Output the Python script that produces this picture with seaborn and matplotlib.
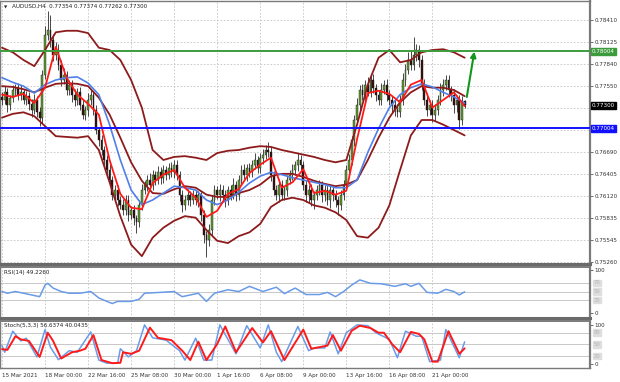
import numpy as np
import pandas as pd
import matplotlib
matplotlib.use("Agg")
import matplotlib.pyplot as plt
import seaborn as sns

# ---------------- data ----------------
title_text = "AUDUSD,H4  0.77354 0.77374 0.77262 0.77300"
rsi_title = "RSI(14) 49.2260"
stoch_title = "Stoch(5,3,3) 56.6374 40.0435"

first_open = 0.77410
closes = [
    0.77370, 0.77474, 0.77305, 0.77396, 0.77500, 0.77526, 0.77435, 0.77474, 0.77370, 0.77422,
    0.77318, 0.77240, 0.77370, 0.77214, 0.77136, 0.77695, 0.78215, 0.78280, 0.78150, 0.77955,
    0.78020, 0.77825, 0.77630, 0.77695, 0.77500, 0.77565, 0.77435, 0.77370, 0.77474, 0.77305,
    0.77175, 0.77240, 0.77370, 0.77435, 0.77240, 0.76980, 0.76850, 0.76720, 0.76590, 0.76460,
    0.76330, 0.76135, 0.76200, 0.76070, 0.76005, 0.75940, 0.76070, 0.75875, 0.75940, 0.75836,
    0.75784, 0.76005, 0.76200, 0.76265, 0.76330, 0.76265, 0.76395, 0.76330, 0.76434, 0.76356,
    0.76460, 0.76395, 0.76486, 0.76434, 0.76525, 0.76395, 0.76135, 0.76005, 0.76070, 0.76135,
    0.76070, 0.76135, 0.76070, 0.76135, 0.75875, 0.75615, 0.75550, 0.75680, 0.76070, 0.76200,
    0.76135, 0.76200, 0.76135, 0.76070, 0.76200, 0.76135, 0.76265, 0.76135, 0.76330, 0.76460,
    0.76395, 0.76486, 0.76434, 0.76525, 0.76590, 0.76486, 0.76616, 0.76655, 0.76720, 0.76694,
    0.76395, 0.76200, 0.76135, 0.76265, 0.76135, 0.76200, 0.76330, 0.76395, 0.76460, 0.76525,
    0.76590, 0.76525, 0.76265, 0.76135, 0.76200, 0.76070, 0.76135, 0.76200, 0.76265, 0.76135,
    0.76200, 0.76070, 0.76200, 0.76135, 0.76070, 0.76005, 0.76135, 0.76265, 0.76460, 0.76590,
    0.76850, 0.77110, 0.77305, 0.77500, 0.77435, 0.77565, 0.77474, 0.77630, 0.77526, 0.77435,
    0.77370, 0.77500, 0.77565, 0.77435, 0.77370, 0.77305, 0.77240, 0.77214, 0.77370, 0.77630,
    0.77760, 0.77890, 0.77825, 0.77955, 0.78020, 0.77890, 0.77565, 0.77370, 0.77240, 0.77305,
    0.77175, 0.77240, 0.77370, 0.77500, 0.77565, 0.77630, 0.77500, 0.77435, 0.77305, 0.77370,
    0.77110, 0.77354, 0.77300]

# upper / lower shadows in pips
wick_up_pips = [
    6, 8, 5, 4, 7, 5, 6, 9, 4, 6, 5, 7, 8, 5, 6,
    6, 12, 25, 20, 8,
    10, 8, 6, 9, 5, 7, 6, 8, 5, 6, 7, 5, 9, 6,
    5, 6, 4, 7, 5, 6, 8, 5, 7, 6, 5, 8, 6, 7, 5, 6, 4,
    6, 8, 5, 7, 9, 6, 5, 8, 6, 7, 5, 6, 8, 7, 6,
    5, 7, 6, 8, 5, 6, 7, 5, 4, 6, 5, 8,
    7, 6, 5, 8, 6, 7, 5, 6, 9, 5, 7, 6, 8, 5, 7, 6, 9, 5, 6, 8, 7, 10,
    6, 5, 7, 8, 6, 5, 7, 6, 8, 5, 9, 6, 5, 7, 6, 8, 5, 6, 7, 5, 6, 8, 7, 5, 6, 5, 7, 6,
    6, 8, 5, 7, 9, 6, 8, 7, 10, 6, 8, 5, 7, 9, 6, 8, 7, 5, 6, 8,
    7, 9, 8, 10, 12, 23, 8, 7, 6, 8, 9, 7, 6, 8, 7, 9, 8, 6, 7, 5, 8, 7, 6, 7, 2]
wick_dn_pips = [
    7, 5, 9, 6, 5, 8, 6, 7, 5, 6, 8, 9, 5, 7, 10,
    6, 5, 7, 9, 8,
    7, 6, 8, 5, 7, 6, 9, 8, 6, 7, 5, 6, 8, 7,
    6, 5, 8, 7, 6, 9, 5, 7, 6, 8, 5, 7, 6, 8, 5, 9, 14,
    6, 7, 5, 8, 6, 7, 6, 5, 8, 6, 7, 5, 6, 8, 7,
    8, 9, 7, 6, 8, 5, 7, 9, 8, 10, 22, 8,
    6, 7, 5, 8, 6, 9, 7, 6, 5, 8, 7, 6, 5, 8, 7, 6, 5, 7, 6, 8, 5, 6,
    8, 7, 6, 9, 7, 6, 8, 5, 7, 6, 8, 7, 6, 9, 10, 8, 12, 7, 6, 9, 8, 7, 10, 8, 9, 13, 7, 6,
    5, 7, 6, 8, 5, 7, 6, 8, 5, 7, 6, 8, 7, 6, 5, 8, 7, 9, 8, 6,
    7, 6, 8, 5, 7, 6, 8, 9, 7, 6, 8, 7, 9, 8, 7, 6, 8, 7, 9, 8, 10, 9, 12, 6, 4]

# indicator lines, sampled every 4 bars
line_bars = list(range(0, 173, 4))
bb_upper = [0.7805, 0.7799, 0.7789, 0.7781, 0.7802, 0.7825, 0.7827, 0.7827, 0.7824, 0.7805,
            0.7802, 0.7789, 0.7763, 0.7727, 0.7672, 0.7659, 0.7663, 0.7664, 0.7662, 0.7659,
            0.7668, 0.7671, 0.7672, 0.7675, 0.7677, 0.7676, 0.7672, 0.7669, 0.7666, 0.7663,
            0.7659, 0.7656, 0.7659, 0.7705, 0.7757, 0.7792, 0.7802, 0.7786, 0.7789, 0.7799,
            0.7802, 0.7803, 0.7799, 0.7792]
bb_mid = [0.7755, 0.7754, 0.7751, 0.7747, 0.7753, 0.7758, 0.7759, 0.7758, 0.7755, 0.7740,
          0.7718, 0.7688, 0.7656, 0.7632, 0.7616, 0.7615, 0.7621, 0.7625, 0.7623, 0.7614,
          0.7611, 0.7611, 0.7616, 0.7620, 0.7627, 0.7638, 0.7641, 0.7641, 0.7637, 0.7632,
          0.7628, 0.7625, 0.7627, 0.7633, 0.7659, 0.7688, 0.7714, 0.7734, 0.7747, 0.7755,
          0.7753, 0.7753, 0.7750, 0.7742]
bb_lower = [0.7714, 0.7719, 0.7721, 0.7716, 0.7703, 0.7690, 0.7689, 0.7688, 0.7690, 0.7672,
            0.7630, 0.7586, 0.7549, 0.7534, 0.7558, 0.7571, 0.7580, 0.7586, 0.7584, 0.7568,
            0.7554, 0.7551, 0.7560, 0.7565, 0.7576, 0.7598, 0.7607, 0.7610, 0.7607, 0.7600,
            0.7597, 0.7591, 0.7581, 0.7560, 0.7558, 0.7571, 0.7600, 0.7646, 0.7691, 0.7711,
            0.7711, 0.7705, 0.7698, 0.7691]
ma_fast = [0.7744, 0.7741, 0.7745, 0.7733, 0.7753, 0.7806, 0.7766, 0.7744, 0.7732, 0.7718,
           0.7659, 0.7615, 0.7597, 0.7595, 0.7629, 0.7640, 0.7646, 0.7623, 0.7610, 0.7585,
           0.7593, 0.7615, 0.7621, 0.7642, 0.7653, 0.7662, 0.7623, 0.7630, 0.7647, 0.7616,
           0.7619, 0.7614, 0.7619, 0.7686, 0.7746, 0.7749, 0.7745, 0.7734, 0.7757, 0.7763,
           0.7727, 0.7737, 0.7747, 0.7729]
ma_slow = [0.7766, 0.7760, 0.7755, 0.7746, 0.7757, 0.7763, 0.7766, 0.7767, 0.7759, 0.7744,
           0.7705, 0.7659, 0.7620, 0.7601, 0.7607, 0.7616, 0.7625, 0.7623, 0.7620, 0.7607,
           0.7601, 0.7607, 0.7617, 0.7629, 0.7638, 0.7643, 0.7640, 0.7636, 0.7633, 0.7630,
           0.7627, 0.7623, 0.7623, 0.7633, 0.7669, 0.7700, 0.7727, 0.7744, 0.7753, 0.7758,
           0.7754, 0.7747, 0.7741, 0.7733]

rsi_bars = [0, 2, 5, 8, 14, 16, 17, 19, 22, 25, 29, 33, 36, 39, 41, 43, 48, 51, 53, 59,
            64, 67, 73, 76, 79, 84, 88, 92, 97, 102, 105, 109, 113, 118, 121, 124, 127, 130,
            133, 137, 141, 146, 150, 152, 155, 158, 162, 165, 168, 170, 172]
rsi_vals = [50, 46, 50, 46, 38, 65, 69, 58, 50, 46, 46, 50, 35, 27, 22, 27, 27, 32, 46, 48,
            50, 38, 46, 27, 46, 54, 50, 62, 50, 60, 45, 58, 43, 43, 48, 38, 50, 65,
            77, 69, 68, 62, 68, 62, 69, 48, 46, 55, 50, 42, 49.2]

stoch_k_bars = [0, 1, 4, 7, 9, 13, 16, 18, 21, 25, 28, 33, 36, 39, 43, 44, 47, 50, 53, 56,
                61, 66, 68, 72, 75, 78, 81, 87, 91, 96, 99, 102, 104, 110, 114, 116, 120,
                122, 125, 128, 132, 136, 139, 144, 147, 150, 154, 156, 159, 163, 165, 170, 172]
stoch_k_vals = [47, 30, 84, 59, 66, 18, 88, 43, 11, 34, 30, 82, 10, 2, 2, 39, 18, 34, 100, 67,
                61, 34, 10, 66, 10, 10, 100, 26, 98, 41, 100, 30, 6, 96, 34, 41, 41,
                82, 26, 80, 100, 98, 80, 63, 16, 84, 71, 71, 6, 10, 88, 16, 56.6]
stoch_d_bars = [0, 2, 5, 7, 10, 14, 17, 19, 22, 26, 29, 31, 34, 37, 41, 44, 45, 48, 51, 55,
                58, 63, 67, 70, 73, 76, 80, 83, 87, 93, 97, 100, 103, 105, 112, 115, 118,
                121, 123, 126, 130, 133, 137, 140, 142, 145, 148, 152, 155, 157, 160, 162,
                166, 170, 172]
stoch_d_vals = [38, 36, 71, 63, 59, 18, 80, 59, 14, 30, 34, 39, 74, 10, 2, 3, 30, 26, 34, 93,
                67, 61, 34, 10, 57, 10, 51, 96, 30, 92, 55, 84, 39, 10, 88, 39, 43,
                47, 74, 34, 85, 98, 92, 80, 80, 51, 30, 82, 77, 63, 6, 6,
                84, 26, 40.0]

resistance = 0.78004
support = 0.77004
last_price = 0.77300
arrow_from = (172.8, 0.7741)
arrow_to = (175.6, 0.7800)

price_ticks = [0.78410, 0.78125, 0.77840, 0.77550, 0.77265, 0.76975, 0.76690,
               0.76405, 0.76120, 0.75835, 0.75545, 0.75260]
hidden_ticks = [0.77265, 0.76975]
time_tick_bars = [0, 16, 32, 48, 64, 80, 96, 112, 128, 144, 160]
time_labels = ["15 Mar 2021", "18 Mar 00:00", "22 Mar 16:00", "25 Mar 08:00",
               "30 Mar 00:00", "1 Apr 16:00", "6 Apr 08:00", "9 Apr 00:00",
               "13 Apr 16:00", "16 Apr 08:00", "21 Apr 00:00"]
rsi_levels = [70, 50, 30]
stoch_levels = [80, 50, 20]

# ---------------- style ----------------
sns.set_style("white")
plt.rcParams["font.family"] = ["DejaVu Sans"]
FS = 4.1
GRID = dict(color="#c4c4c4", lw=0.6, linestyle=(0, (2, 2)))
FRAME = "#7a7a7a"

W, H = 620, 382
fig = plt.figure(figsize=(W / 100, H / 100), dpi=100)
fig.patch.set_facecolor("white")

def rect(top, bottom, left=0, right=590):
    return [left / W, 1 - bottom / H, (right - left) / W, (bottom - top) / H]

ax = fig.add_axes(rect(1, 264))
ax_rsi = fig.add_axes(rect(267, 318), sharex=ax)
ax_st = fig.add_axes(rect(321, 368), sharex=ax)

xmin, xmax = -0.74, 218.6
ax.set_xlim(xmin, xmax)
ax.set_ylim(0.75238, 0.78657)
ax_rsi.set_ylim(-11.6, 107)
ax_st.set_ylim(-10.3, 110)

for a in (ax, ax_rsi, ax_st):
    a.set_facecolor("white")
    for s in a.spines.values():
        s.set_color(FRAME)
        s.set_linewidth(1.0)
    a.spines["right"].set_linewidth(1.6)
    a.yaxis.tick_right()
    a.tick_params(axis="y", which="both", length=2, width=0.5, pad=1.2,
                  labelsize=FS, colors="#333333", direction="out")
    a.tick_params(axis="x", length=0, labelbottom=False)
    for b in time_tick_bars:
        a.axvline(b, zorder=0, **GRID)
ax.spines["bottom"].set_linewidth(2.2)
ax.spines["bottom"].set_color("#6a6a6a")
ax_rsi.spines["top"].set_linewidth(1.4)
ax_rsi.spines["bottom"].set_linewidth(2.2)
ax_rsi.spines["bottom"].set_color("#6a6a6a")
ax_st.spines["top"].set_linewidth(1.4)

# ---------------- main price panel ----------------
ax.set_yticks(price_ticks)
ax.set_yticklabels(["" if t in hidden_ticks else f"{t:.5f}" for t in price_ticks])
for t in price_ticks:
    ax.axhline(t, zorder=0, **GRID)

n = len(closes)
bars = np.arange(n)
c = np.array(closes)
o = np.array([first_open] + closes[:-1])
hi = np.maximum(o, c) + np.array(wick_up_pips) * 0.0001
lo = np.minimum(o, c) - np.array(wick_dn_pips) * 0.0001
up = c >= o
ax.vlines(bars, lo, hi, color="#2a2a2a", lw=0.6, zorder=2)
ax.bar(bars[up], np.maximum((c - o)[up], 0.00004), bottom=o[up], width=0.66,
       color="#5f9e2f", edgecolor="#1c1c1c", lw=0.3, zorder=3)
ax.bar(bars[~up], np.maximum((o - c)[~up], 0.00004), bottom=c[~up], width=0.66,
       color="#3a0e0e", edgecolor="#1c1c1c", lw=0.3, zorder=3)

lines = pd.DataFrame({"bar": line_bars, "upper": bb_upper, "mid": bb_mid,
                      "lower": bb_lower, "fast": ma_fast, "slow": ma_slow})
for col in ("upper", "mid", "lower"):
    sns.lineplot(data=lines, x="bar", y=col, ax=ax, color="#8e1b1b", lw=1.3, zorder=4)
sns.lineplot(data=lines, x="bar", y="slow", ax=ax, color="#4f80ea", lw=1.2, zorder=5)
sns.lineplot(data=lines, x="bar", y="fast", ax=ax, color="#ff1a1a", lw=1.3, zorder=6)

ax.axhline(resistance, color="#3c9c3c", lw=1.4, zorder=7)
ax.axhline(support, color="#1010ff", lw=1.4, zorder=7)
ax.annotate("", xy=arrow_to, xytext=arrow_from,
            arrowprops=dict(arrowstyle="-|>", color="#14961e", lw=1.5,
                            mutation_scale=8, shrinkA=0, shrinkB=0), zorder=8)

def price_box(a, y, text, fc):
    a.text(1.003, y, text, transform=a.get_yaxis_transform(), ha="left", va="center",
           fontsize=FS, color="white", clip_on=False, zorder=10,
           bbox=dict(boxstyle="square,pad=0.2", fc=fc, ec=fc))

price_box(ax, resistance, f"{resistance:.5f}", "#3c9c3c")
price_box(ax, last_price, f"{last_price:.5f}", "#000000")
price_box(ax, support, f"{support:.5f}", "#1010ff")

ax.text(0.007, 0.984, "\u25BC", transform=ax.transAxes, ha="left", va="top",
        fontsize=3.0, color="#222222")
ax.text(0.021, 0.988, title_text, transform=ax.transAxes, ha="left", va="top",
        fontsize=FS, color="#222222")

# ---------------- RSI panel ----------------
ax_rsi.set_yticks([100, 0])
ax_rsi.set_yticklabels(["100", "0"])
for lv in rsi_levels:
    ax_rsi.axhline(lv, color="#c8c8c8", lw=0.7, zorder=0)
    ax_rsi.text(1.006, lv, str(lv), transform=ax_rsi.get_yaxis_transform(), ha="left",
                va="center", fontsize=FS - 0.3, color="#b5b5b5", clip_on=False,
                bbox=dict(boxstyle="square,pad=0.15", fc="#dedede", ec="#dedede"))
rsi_df = pd.DataFrame({"bar": rsi_bars, "rsi": rsi_vals})
sns.lineplot(data=rsi_df, x="bar", y="rsi", ax=ax_rsi, color="#6a9be8", lw=1.1, zorder=3)
ax_rsi.text(0.006, 0.95, rsi_title, transform=ax_rsi.transAxes, ha="left", va="top",
            fontsize=FS, color="#222222")

# ---------------- Stochastic panel ----------------
ax_st.set_yticks([100, 0])
ax_st.set_yticklabels(["100", "0"])
for lv in stoch_levels:
    ax_st.axhline(lv, color="#c8c8c8", lw=0.7, zorder=0)
    ax_st.text(1.006, lv, str(lv), transform=ax_st.get_yaxis_transform(), ha="left",
               va="center", fontsize=FS - 0.3, color="#b5b5b5", clip_on=False,
               bbox=dict(boxstyle="square,pad=0.15", fc="#dedede", ec="#dedede"))
k_df = pd.DataFrame({"bar": stoch_k_bars, "k": stoch_k_vals})
d_df = pd.DataFrame({"bar": stoch_d_bars, "d": stoch_d_vals})
sns.lineplot(data=k_df, x="bar", y="k", ax=ax_st, color="#6a9be8", lw=1.1, zorder=3)
sns.lineplot(data=d_df, x="bar", y="d", ax=ax_st, color="#ff1a1a", lw=1.4, zorder=4)
ax_st.text(0.006, 0.95, stoch_title, transform=ax_st.transAxes, ha="left", va="top",
           fontsize=FS, color="#222222")

# time axis
ax_st.set_xticks(time_tick_bars)
ax_st.set_xticklabels(time_labels)
ax_st.tick_params(axis="x", length=2, width=0.5, pad=1.5, labelbottom=True,
                  labelsize=FS, colors="#333333")
for lab in ax_st.get_xticklabels():
    lab.set_horizontalalignment("left")

for a in (ax, ax_rsi, ax_st):
    a.set_xlabel("")
    a.set_ylabel("")
    a.set_xlim(xmin, xmax)

fig.savefig("out.png", dpi=100, facecolor="white")
